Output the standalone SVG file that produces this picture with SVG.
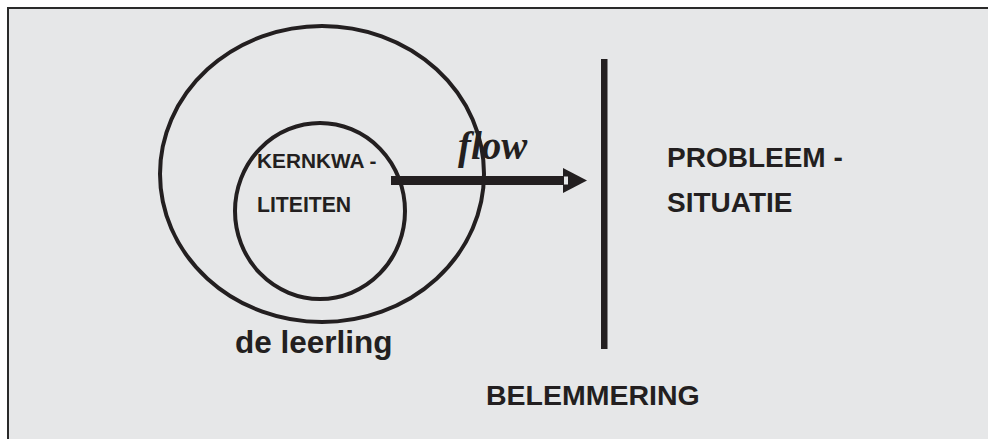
<svg xmlns="http://www.w3.org/2000/svg" width="988" height="439" viewBox="0 0 988 439">
<style>
.t{font-family:"Liberation Sans",Arial,sans-serif;font-weight:bold;fill:#231f20}
.ring{fill:none;stroke:#231f20;stroke-width:4}
</style>
<rect x="0" y="0" width="988" height="439" fill="#ffffff"/>
<rect x="8" y="8" width="985" height="440" fill="#e6e7e8" stroke="#2a2a2a" stroke-width="2"/>
<g id="leerling">
<ellipse class="ring" cx="322" cy="174" rx="162" ry="148"/>
<text class="t" x="235" y="353" font-size="31.5">de leerling</text>
</g>
<g id="kernkwaliteiten">
<ellipse class="ring" cx="320" cy="211" rx="85" ry="88"/>
<text class="t" x="257" y="168" font-size="20.8">KERNKWA -</text>
<text class="t" x="257" y="212" font-size="21.2">LITEITEN</text>
</g>
<g id="belemmering">
<rect x="601" y="59" width="6.5" height="290" fill="#231f20"/>
<text class="t" x="486" y="405" font-size="28.5">BELEMMERING</text>
</g>
<g id="probleemsituatie">
<text class="t" x="667" y="167" font-size="28">PROBLEEM -</text>
<text class="t" x="667" y="212" font-size="28">SITUATIE</text>
</g>
<g id="connectors">
<rect x="391" y="176" width="174" height="9" fill="#231f20"/>
<polygon points="563,168 587,180.5 563,193" fill="#231f20"/>
<rect x="564" y="176.5" width="4" height="8" fill="#e6e7e8"/>
<text x="458" y="159" font-family="Liberation Serif,serif" font-style="italic" font-weight="bold" font-size="39" fill="#231f20">flow</text>
</g>
</svg>
